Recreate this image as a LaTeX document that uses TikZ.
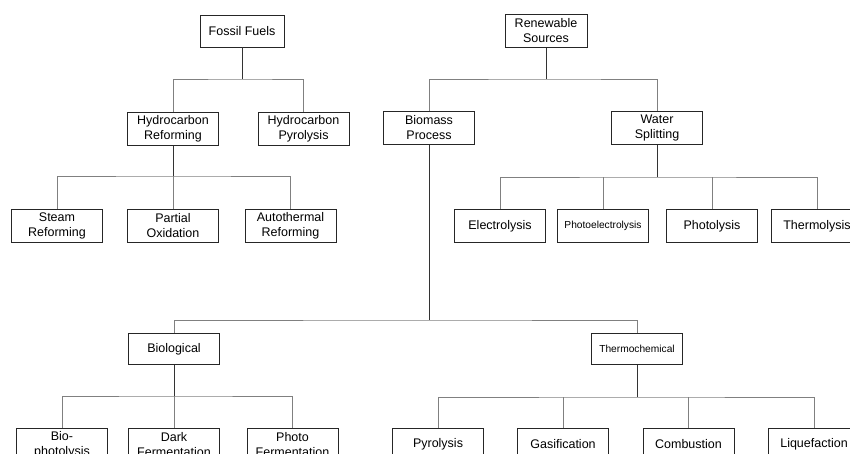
\documentclass[tikz,border=0pt]{standalone}
\usepackage{fontspec}
\setmainfont{Liberation Sans}
\begin{document}
\begin{tikzpicture}[x=1pt, y=-1pt,
    box/.style={draw=black!85, line width=0.8pt, fill=white, minimum width=91pt,
      minimum height=33pt, inner sep=0pt, align=center, font=\fontsize{12.5}{15}\selectfont},
    smalltext/.style={font=\fontsize{10.2}{12}\selectfont},
    stem/.style={draw=black!80, line width=0.7pt},
    branch/.style={draw=black!50, line width=0.7pt}]
    \useasboundingbox (0,0) rectangle (850,453);
    \clip (0,0) rectangle (850,453);

    % Top level
    \node[box, minimum width=84pt, minimum height=32pt] (ff) at (242,31) {Fossil Fuels};
    \node[box, minimum width=82pt, minimum height=33pt] (rs) at (546,31) {Renewable\\Sources};

    % Second level
    \node[box] (hr) at (173,129) {Hydrocarbon\\Reforming};
    \node[box] (hp) at (303.5,129) {Hydrocarbon\\Pyrolysis};
    \node[box] (bp) at (429,128) {Biomass\\Process};
    \node[box] (ws) at (657,128) {Water\\Splitting};

    % Third level
    \node[box] (sr) at (57,226) {Steam\\Reforming};
    \node[box] (po) at (173,226) {Partial\\Oxidation};
    \node[box] (ar) at (290.5,226) {Autothermal\\Reforming};
    \node[box] (el) at (500,226) {Electrolysis};
    \node[box, smalltext] (pe) at (603,226) {Photoelectrolysis};
    \node[box] (pl) at (712,226) {Photolysis};
    \node[box] (th) at (817,226) {Thermolysis};

    % Biomass routes
    \node[box, minimum height=31pt] (bio) at (174,349) {Biological};
    \node[box, smalltext, minimum height=31pt] (tc) at (637,349) {Thermochemical};

    % Bottom level (cut by the frame)
    \node[box] (bph) at (62,444.5) {Bio-\\photolysis};
    \node[box] (df) at (174,444.5) {Dark\\Fermentation};
    \node[box] (pf) at (292.5,444.5) {Photo\\Fermentation};
    \node[box] (py) at (438,444.5) {Pyrolysis};
    \node[box] (ga) at (563,444.5) {Gasification};
    \node[box] (co) at (688.5,444.5) {Combustion};
    \node[box] (lq) at (814,444.5) {Liquefaction};

    % Fossil fuels tree
    \coordinate (ffbar) at (242,79);
    \draw[stem] (ff) -- (ffbar);
    \draw[branch] (hr) |- (ffbar) -| (hp);
    \coordinate (hrbar) at (173,176);
    \draw[stem] (hr) -- (hrbar);
    \draw[branch] (sr) |- (hrbar) -| (ar);
    \draw[branch] (po) -- (hrbar);

    % Renewable tree
    \coordinate (rsbar) at (546,79);
    \draw[stem] (rs) -- (rsbar);
    \draw[branch] (bp) |- (rsbar) -| (ws);
    \coordinate (wsbar) at (657,177);
    \draw[stem] (ws) -- (wsbar);
    \draw[branch] (el) |- (wsbar) -| (th);
    \draw[branch] (pe) -- (pe |- wsbar);
    \draw[branch] (pl) -- (pl |- wsbar);

    % Biomass tree
    \coordinate (bpbar) at (429,320);
    \draw[stem] (bp) -- (bpbar);
    \draw[branch] (bio) |- (bpbar) -| (tc);
    \coordinate (biobar) at (174,396);
    \draw[stem] (bio) -- (biobar);
    \draw[branch] (bph) |- (biobar) -| (pf);
    \draw[branch] (df) -- (biobar);
    \coordinate (tcbar) at (637,397);
    \draw[stem] (tc) -- (tcbar);
    \draw[branch] (py) |- (tcbar) -| (lq);
    \draw[branch] (ga) -- (ga |- tcbar);
    \draw[branch] (co) -- (co |- tcbar);
\end{tikzpicture}
\end{document}
